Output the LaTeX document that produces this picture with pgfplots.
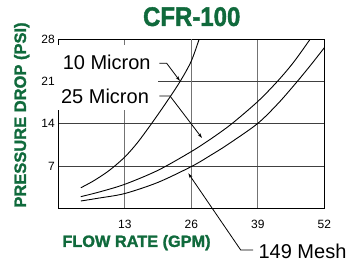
\documentclass[border=0pt]{standalone}
\usepackage{fontspec}
\setmainfont{Liberation Sans}
\newfontfamily\heavyfont[FakeBold=1.6]{Liberation Sans Bold}
\usepackage{pgfplots}
\pgfplotsset{compat=1.18}
\usetikzlibrary{arrows.meta}
\definecolor{cfrgreen}{RGB}{16,106,60}
\begin{document}
\begin{tikzpicture}[x=1pt,y=1pt]
\useasboundingbox (0,0) rectangle (351,266);
\begin{axis}[
  at={(58.3pt,57.7pt)}, anchor=south west,
  scale only axis, width=266pt, height=169pt,
  xmin=0, xmax=52, ymin=0, ymax=28,
  xtick={13,39,52}, ytick={7,14,21,28},
  extra x ticks={26},
  extra x tick style={grid=major, major grid style={black, line width=0.9pt}},
  grid=major, major tick length=0pt,
  major x grid style={black!55, line width=0.9pt},
  major y grid style={black!75, line width=0.9pt},
  axis line style={black, line width=0.9pt},
  tick label style={font=\fontsize{12}{12}\selectfont},
  /pgf/number format/assume math mode=true,
  xticklabel style={anchor=base, yshift=-19.7pt},
  yticklabel style={anchor=east},
]
% 10 Micron
\addplot[black, line width=0.9pt, smooth] coordinates {
 (4.4,3.4) (7,4.6) (10,6.3) (13,8.5) (15.5,10.9) (18.2,14) (21,17.4) (23.8,21) (26,24.4) (27.6,28.2)};
% 25 Micron
\addplot[black, line width=0.9pt, smooth] coordinates {
 (4.4,1.93) (8,2.7) (13,3.98) (19.5,6.3) (26,9.4) (30,11.6) (33.9,14) (39,17.7) (42.8,21) (46,24.2) (49.3,28.1)};
% 149 Mesh
\addplot[black, line width=0.9pt, smooth] coordinates {
 (4.4,1.21) (8,1.7) (13,2.45) (19.5,4.3) (26.2,7) (30,8.9) (33,10.5) (38.9,14) (43,17.4) (46.7,21) (49.5,23.9) (52,26.6)};
\end{axis}
% white masks behind labels
\fill[white] (55.5,156) rectangle (158,221);
% labels with leaders
\node[font=\fontsize{20}{20}\selectfont, inner sep=0pt] at (106.7,203.3) {10 Micron};
\node[font=\fontsize{20}{20}\selectfont, inner sep=0pt] at (105,169.3) {25 Micron};
\node[font=\fontsize{20}{20}\selectfont, inner sep=0pt] at (302.5,14.3) {149 Mesh};
\draw[black, line width=0.8pt, -{Stealth[length=5pt,width=3pt]}] (159.3,202.7) -- (166.7,202.7) -- (180,185);
\draw[black, line width=0.8pt, -{Stealth[length=5pt,width=3pt]}] (159.3,170) -- (170,170) -- (202,128);
\draw[black, line width=0.8pt, -{Stealth[length=5pt,width=3pt]}] (253,16) -- (240.7,16) -- (188.3,92.7);
% title and axis labels
\node[font=\heavyfont\fontsize{24}{24}\selectfont, text=cfrgreen, inner sep=0pt] at (191.7,249.3) {\scalebox{1}[1.12]{CFR-100}};
\node[font=\heavyfont\fontsize{16.3}{16.3}\selectfont, text=cfrgreen, inner sep=0pt] at (136.5,23.3) {FLOW RATE (GPM)};
\node[font=\heavyfont\fontsize{16.5}{16.5}\selectfont, text=cfrgreen, inner sep=0pt, rotate=90] at (21.7,151) {PRESSURE DROP (PSI)};
\end{tikzpicture}
\end{document}
